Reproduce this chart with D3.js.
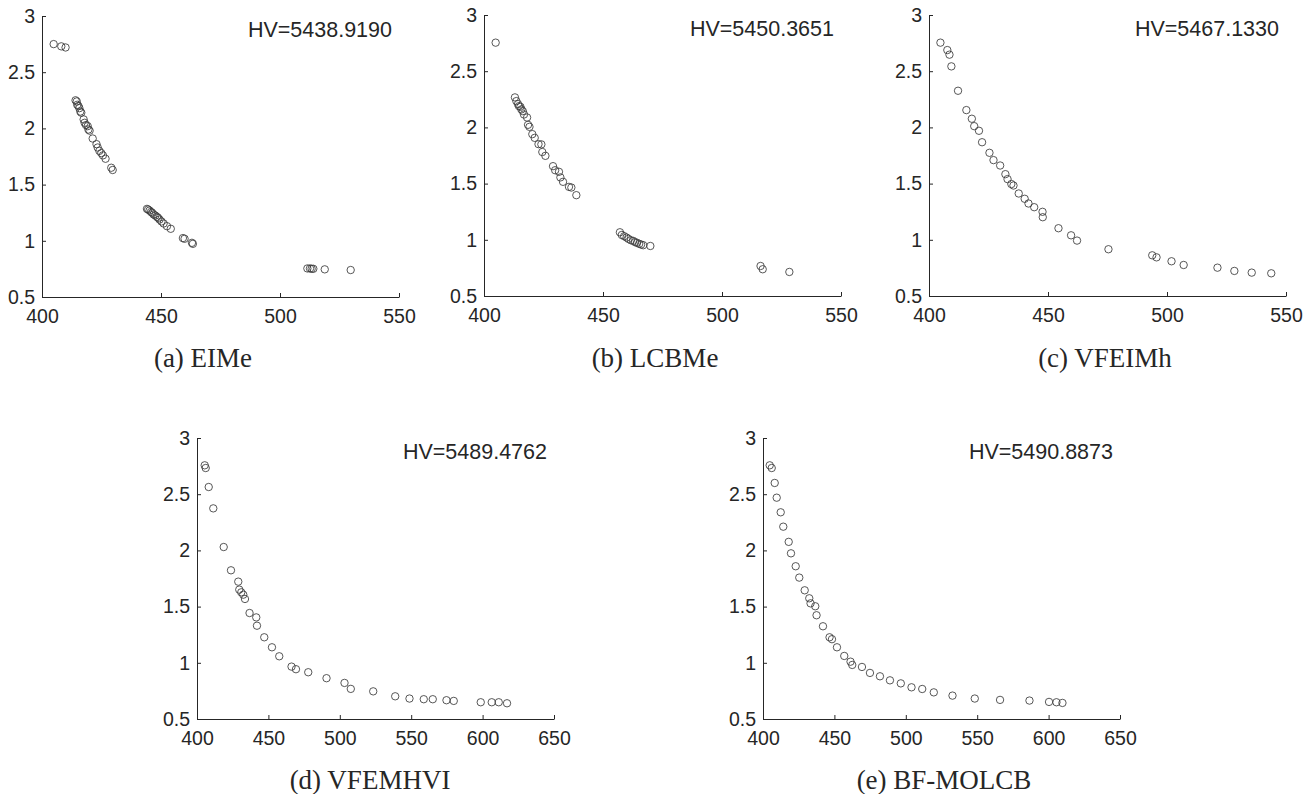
<!DOCTYPE html>
<html>
<head>
<meta charset="utf-8">
<script src="https://cdn.jsdelivr.net/npm/d3@7"></script>
<style>
  body { margin: 0; background: #fff; }
  svg text { fill: #262626; }
</style>
</head>
<body>
<div class="container"></div>
<script>
// Pareto front points (f1 on x, f2 on y)
const eimeX = [404.9, 408.1, 409.9,
  414.1, 414.6, 414.8, 415.3, 415.7, 416.1, 416.5, 417.5, 417.9, 418.5, 419.2, 419.5, 420.0,
  421.3, 422.9, 423.4, 424.1, 424.9, 425.6, 426.7, 429.1, 429.7,
  444.1, 444.6, 445.2, 445.8, 446.3, 446.9, 447.6, 448.3, 448.8, 449.4, 450.2, 451.1, 452.5, 454.1,
  459.2, 459.9, 463.0, 463.4,
  511.5, 512.6, 513.3, 514.0, 518.8, 529.7];
const eimeY = [2.75, 2.73, 2.72,
  2.25, 2.24, 2.21, 2.20, 2.18, 2.15, 2.14, 2.08, 2.05, 2.03, 2.02, 1.99, 1.98,
  1.91, 1.86, 1.83, 1.80, 1.78, 1.76, 1.73, 1.65, 1.63,
  1.284, 1.278, 1.269, 1.257, 1.249, 1.234, 1.225, 1.213, 1.204, 1.189, 1.172, 1.154, 1.130, 1.107,
  1.024, 1.018, 0.982, 0.973,
  0.754, 0.754, 0.751, 0.751, 0.746, 0.740];

const lcbmeX = [404.9,
  413.0, 413.6, 414.3, 414.7, 415.3, 415.7, 416.3, 416.8, 418.1, 418.5, 419.1, 420.3, 421.3,
  422.9, 424.1, 424.5, 425.8, 429.0, 429.9, 431.5, 432.1, 433.2, 435.7, 436.7, 438.8,
  457.1, 457.9, 458.9, 459.9, 460.7, 461.7, 462.7, 463.5, 464.3, 465.2, 466.0, 466.9, 469.9,
  516.2, 517.1, 528.3];
const lcbmeY = [2.754,
  2.267, 2.234, 2.207, 2.189, 2.183, 2.160, 2.145, 2.115, 2.088, 2.023, 2.005, 1.940, 1.907,
  1.851, 1.849, 1.781, 1.747, 1.655, 1.619, 1.605, 1.555, 1.516, 1.471, 1.465, 1.397,
  1.067, 1.043, 1.032, 1.020, 1.008, 0.996, 0.990, 0.979, 0.973, 0.964, 0.958, 0.952, 0.945,
  0.767, 0.738, 0.714];

const vfeimhX = [404.8, 407.7, 408.6, 409.4, 412.2, 415.7, 418.0, 419.0, 421.0, 422.3, 425.4,
  427.1, 429.9, 432.1, 433.0, 434.6, 435.5, 437.7, 440.2, 441.8, 444.2, 447.7, 447.8, 454.4,
  459.7, 462.2, 475.4, 493.8, 495.6, 501.9, 507.0, 521.2, 528.3, 535.6, 543.8];
const vfeimhY = [2.754, 2.688, 2.647, 2.543, 2.326, 2.154, 2.077, 2.011, 1.970, 1.868, 1.774,
  1.709, 1.661, 1.584, 1.540, 1.496, 1.483, 1.412, 1.365, 1.323, 1.290, 1.249, 1.201, 1.103,
  1.040, 0.993, 0.916, 0.862, 0.844, 0.809, 0.776, 0.752, 0.723, 0.708, 0.702];

const vfemhviX = [405.4, 406.1, 408.2, 411.4, 418.7, 423.8, 428.9, 429.6, 431.0, 432.4, 433.6,
  436.8, 441.5, 442.0, 447.1, 452.5, 457.6, 466.2, 469.3, 477.9, 490.7, 503.3, 507.7, 523.4,
  538.8, 548.8, 558.8, 565.1, 574.7, 579.8, 598.7, 606.4, 611.3, 617.1];
const vfemhviY = [2.757, 2.733, 2.564, 2.374, 2.030, 1.823, 1.722, 1.651, 1.627, 1.606, 1.568,
  1.443, 1.404, 1.330, 1.227, 1.138, 1.058, 0.966, 0.943, 0.916, 0.863, 0.821, 0.768, 0.746,
  0.702, 0.682, 0.676, 0.676, 0.667, 0.661, 0.649, 0.649, 0.649, 0.640];

const bfmolcbX = [404.7, 406.1, 408.2, 409.6, 412.4, 414.2, 418.0, 419.6, 422.9, 425.4, 429.2,
  432.4, 433.3, 436.6, 437.5, 442.0, 446.6, 448.3, 451.8, 456.9, 461.3, 462.5, 469.3, 474.9,
  481.9, 488.9, 496.5, 504.0, 511.5, 519.6, 532.7, 548.3, 566.0, 586.6, 600.3, 605.5, 609.7];
const bfmolcbY = [2.757, 2.733, 2.600, 2.469, 2.339, 2.211, 2.076, 1.974, 1.859, 1.758, 1.645,
  1.574, 1.529, 1.503, 1.423, 1.325, 1.227, 1.210, 1.138, 1.061, 1.010, 0.981, 0.963, 0.910,
  0.880, 0.844, 0.817, 0.782, 0.767, 0.737, 0.708, 0.682, 0.670, 0.664, 0.652, 0.649, 0.643];

const captions = ["(a) EIMe", "(b) LCBMe", "(c) VFEIMh", "(d) VFEMHVI", "(e) BF-MOLCB"];
const hvLabels = ["HV=5438.9190", "HV=5450.3651", "HV=5467.1330", "HV=5489.4762", "HV=5490.8873"];
const xMaxes = [550, 550, 550, 650, 650];
const xTicksShort = [400, 450, 500, 550];
const xTicksLong = [400, 450, 500, 550, 600, 650];
const yTicks = [0.5, 1, 1.5, 2, 2.5, 3];

const seriesX = [eimeX, lcbmeX, vfeimhX, vfemhviX, bfmolcbX];
const seriesY = [eimeY, lcbmeY, vfeimhY, vfemhviY, bfmolcbY];

// panel placement on the page
const layout = [
  { left: 42,  top: 16,  capX: 203,  capY: 367 },
  { left: 484, top: 15,  capX: 655,  capY: 367 },
  { left: 929, top: 15,  capX: 1105, capY: 367 },
  { left: 197, top: 438, capX: 370,  capY: 789 },
  { left: 763, top: 438, capX: 944,  capY: 789 }
];
const plotW = 357;
const plotH = 281;

const svg = d3.select(".container")
  .append("svg")
  .attr("width", 1315)
  .attr("height", 794);

layout.forEach((p, i) => {
  const x = d3.scaleLinear().domain([400, xMaxes[i]]).range([0, plotW]);
  const y = d3.scaleLinear().domain([0.5, 3]).range([plotH, 0]);

  const g = svg.append("g").attr("transform", `translate(${p.left},${p.top})`);

  const xAxis = g.append("g")
    .attr("transform", `translate(0,${plotH})`)
    .call(d3.axisBottom(x)
      .tickValues(xMaxes[i] === 550 ? xTicksShort : xTicksLong)
      .tickFormat(d3.format("d"))
      .tickSizeInner(-4).tickSizeOuter(0).tickPadding(12));

  const yAxis = g.append("g")
    .call(d3.axisLeft(y)
      .tickValues(yTicks)
      .tickFormat(d => String(d))
      .tickSizeInner(-4).tickSizeOuter(0).tickPadding(7));

  [xAxis, yAxis].forEach(a => {
    a.select(".domain").attr("stroke", "#262626").attr("stroke-width", 1);
    a.selectAll(".tick line").attr("stroke", "#262626").attr("stroke-width", 1);
    a.selectAll("text")
      .attr("font-family", "'Liberation Sans', Arial, sans-serif")
      .attr("font-size", 19.5)
      .attr("fill", "#262626");
  });

  g.append("g")
    .selectAll("circle")
    .data(d3.zip(seriesX[i], seriesY[i]))
    .enter()
    .append("circle")
    .attr("cx", d => x(d[0]))
    .attr("cy", d => y(d[1]))
    .attr("r", 3.7)
    .attr("fill", "none")
    .attr("stroke", "#3a3a3a")
    .attr("stroke-width", 0.85);

  g.append("text")
    .attr("x", plotW - 7)
    .attr("y", 21)
    .attr("text-anchor", "end")
    .attr("font-family", "'Liberation Sans', Arial, sans-serif")
    .attr("font-size", 21.5)
    .text(hvLabels[i]);

  svg.append("text")
    .attr("x", p.capX)
    .attr("y", p.capY)
    .attr("text-anchor", "middle")
    .attr("font-family", "'Liberation Serif', 'Times New Roman', serif")
    .attr("font-size", 27)
    .text(captions[i]);
});
</script>
</body>
</html>
